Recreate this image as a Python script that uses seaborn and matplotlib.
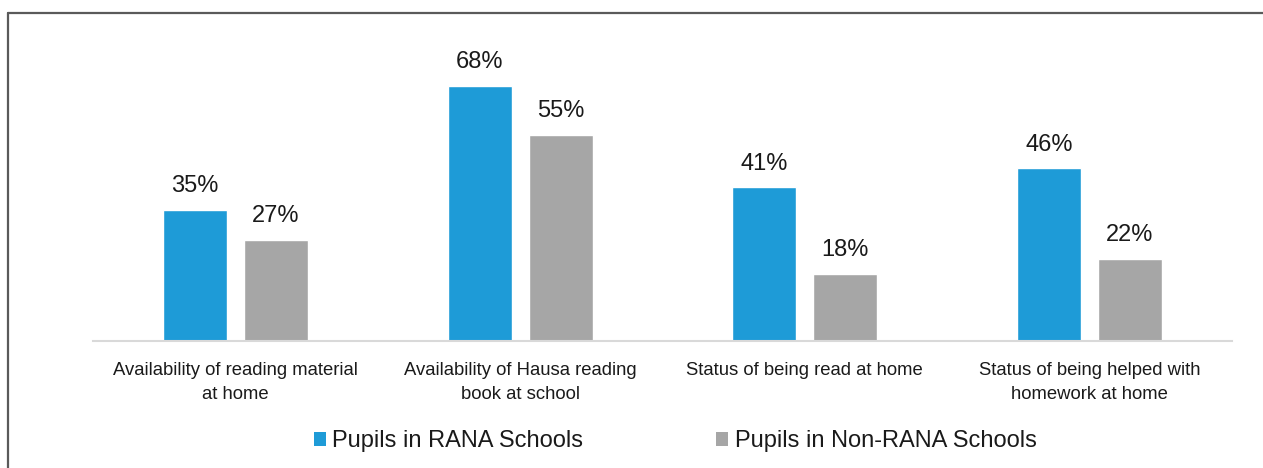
import matplotlib
matplotlib.use("Agg")
import matplotlib.pyplot as plt
import seaborn as sns
import pandas as pd
from matplotlib.lines import Line2D
from matplotlib.patches import Patch

categories = [
    "Availability of reading material\nat home",
    "Availability of Hausa reading\nbook at school",
    "Status of being read at home",
    "Status of being helped with\nhomework at home",
]
series = ["Pupils in RANA Schools", "Pupils in Non-RANA Schools"]
rana = [35, 68, 41, 46]
non_rana = [27, 55, 18, 22]
colors = ["#1E9BD7", "#A6A6A6"]

df = pd.DataFrame({
    "category": categories * 2,
    "group": [series[0]] * 4 + [series[1]] * 4,
    "value": rana + non_rana,
})

sns.set_theme(style="white")
plt.rcParams["font.family"] = ["Liberation Sans", "DejaVu Sans"]

fig = plt.figure(figsize=(12.63, 4.68), dpi=100)
ax = fig.add_axes([93 / 1263, 1 - 341 / 468, (1232 - 93) / 1263, 300 / 468])

sns.barplot(data=df, x="category", y="value", hue="group", palette=colors,
            hue_order=series, order=categories, width=0.568, gap=0.21,
            saturation=1, ax=ax, legend=False)

for container in ax.containers:
    ax.bar_label(container, labels=[f"{v:.0f}%" for v in container.datavalues],
                 padding=9, fontsize=17, color="#1A1A1A")

ax.set_ylim(0, 80)
ax.set_xlim(-0.5, 3.5)
ax.set_xlabel("")
ax.set_ylabel("")
ax.set_yticks([])
for s in ["top", "right", "left"]:
    ax.spines[s].set_visible(False)
ax.spines["bottom"].set_color("#D9D9D9")
ax.spines["bottom"].set_linewidth(1.5)
ax.tick_params(axis="x", length=0, pad=15, labelsize=13.3, labelcolor="#1A1A1A")
for lbl in ax.get_xticklabels():
    lbl.set_multialignment("center")
    lbl.set_linespacing(1.55)

handles = [Patch(facecolor=c, edgecolor="none") for c in colors]
fig.legend(handles, series, loc="center", bbox_to_anchor=(675 / 1263, 1 - 441 / 468),
           ncol=2, frameon=False, fontsize=17, handlelength=0.52, handleheight=0.52,
           handletextpad=0.28, columnspacing=5.6, labelcolor="#1A1A1A")

# outer frame: top and left edges
fig.add_artist(Line2D([8 / 1263, 1], [1 - 13 / 468, 1 - 13 / 468],
                      transform=fig.transFigure, color="#5A5A5A", linewidth=1.6))
fig.add_artist(Line2D([8 / 1263, 8 / 1263], [0, 1 - 13 / 468],
                      transform=fig.transFigure, color="#5A5A5A", linewidth=1.6))

fig.savefig("out.png", dpi=100, facecolor="white")
